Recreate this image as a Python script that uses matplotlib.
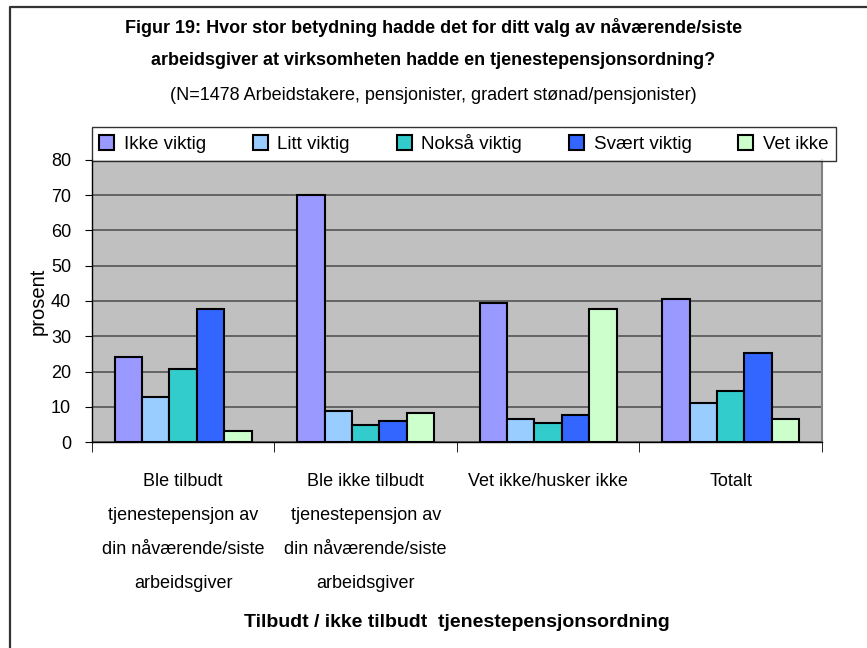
import numpy as np
import matplotlib.pyplot as plt
from matplotlib.lines import Line2D

plt.rcParams['font.family'] = ['Liberation Sans', 'DejaVu Sans']

# Data
categories = [
    "Ble tilbudt\ntjenestepensjon av\ndin nåværende/siste\narbeidsgiver",
    "Ble ikke tilbudt\ntjenestepensjon av\ndin nåværende/siste\narbeidsgiver",
    "Vet ikke/husker ikke",
    "Totalt",
]
series_names = ["Ikke viktig", "Litt viktig", "Nokså viktig", "Svært viktig", "Vet ikke"]
ikke_viktig = [24.2, 70.0, 39.5, 40.6]
litt_viktig = [12.9, 8.9, 6.7, 11.2]
noksaa_viktig = [20.7, 4.9, 5.5, 14.6]
svaert_viktig = [37.8, 6.1, 7.7, 25.4]
vet_ikke = [3.3, 8.4, 37.8, 6.7]
colors = ["#9999FF", "#99CCFF", "#33CCCC", "#3366FF", "#CCFFCC"]
yticks = [0, 10, 20, 30, 40, 50, 60, 70, 80]

series = [ikke_viktig, litt_viktig, noksaa_viktig, svaert_viktig, vet_ikke]

fig = plt.figure(figsize=(8.67, 6.48), dpi=100)
ax = fig.add_axes([0.106, 0.3175, 0.842, 0.436])
ax.set_facecolor("#C0C0C0")

x = np.arange(len(categories))
w = 0.15
for i, (vals, name, col) in enumerate(zip(series, series_names, colors)):
    ax.bar(x + (i - 2) * w, vals, w, color=col, edgecolor="black",
           linewidth=1.5, label=name, zorder=3)

ax.set_xlim(-0.5, len(categories) - 0.5)
ax.set_ylim(0, 80)
ax.set_yticks(yticks)
ax.tick_params(axis="y", labelsize=13, direction="out", length=5, pad=10)
ax.yaxis.grid(True, color="#555555", linewidth=1.2, zorder=0)
ax.set_axisbelow(True)

ax.set_xticks(x)
ax.set_xticklabels(categories, fontsize=13, linespacing=2.32, va="top")
ax.tick_params(axis="x", length=0, pad=22)
ax.set_xticks(np.arange(-0.5, len(categories), 1), minor=True)
ax.tick_params(axis="x", which="minor", length=7, direction="out")

ax.spines["top"].set_visible(False)
ax.spines["right"].set_color("#808080")
ax.spines["right"].set_linewidth(1.5)
ax.spines["left"].set_linewidth(1.0)
ax.spines["bottom"].set_linewidth(1.0)

ax.set_ylabel("prosent", fontsize=14.5, labelpad=2)
fig.text(0.527, 0.040, "Tilbudt / ikke tilbudt  tjenestepensjonsordning",
         ha="center", va="center", fontsize=14, fontweight="bold")

fig.text(0.5, 0.958, "Figur 19: Hvor stor betydning hadde det for ditt valg av nåværende/siste",
         ha="center", va="center", fontsize=13, fontweight="bold")
fig.text(0.5, 0.906, "arbeidsgiver at virksomheten hadde en tjenestepensjonsordning?",
         ha="center", va="center", fontsize=13, fontweight="bold")
fig.text(0.5, 0.853, "(N=1478 Arbeidstakere, pensjonister, gradert stønad/pensjonister)",
         ha="center", va="center", fontsize=13)

leg = fig.legend(loc="center", bbox_to_anchor=(0.1061, 0.748, 0.858, 0.061),
                 mode="expand", ncol=5, fontsize=13.5, frameon=True, fancybox=False,
                 handlelength=0.8, handleheight=0.8, handletextpad=0.5,
                 borderpad=0.4, borderaxespad=0)
leg.get_frame().set_edgecolor("black")
leg.get_frame().set_linewidth(1.0)
for h in leg.legend_handles:
    h.set_linewidth(1.5)

# outer frame (only left and top edges fall inside the picture)
fig.add_artist(Line2D([10 / 867, 10 / 867, 1.0], [0.0, 1 - 7 / 648, 1 - 7 / 648],
                      transform=fig.transFigure, color="#333333", linewidth=1.6))

fig.savefig("out.png", dpi=100)
